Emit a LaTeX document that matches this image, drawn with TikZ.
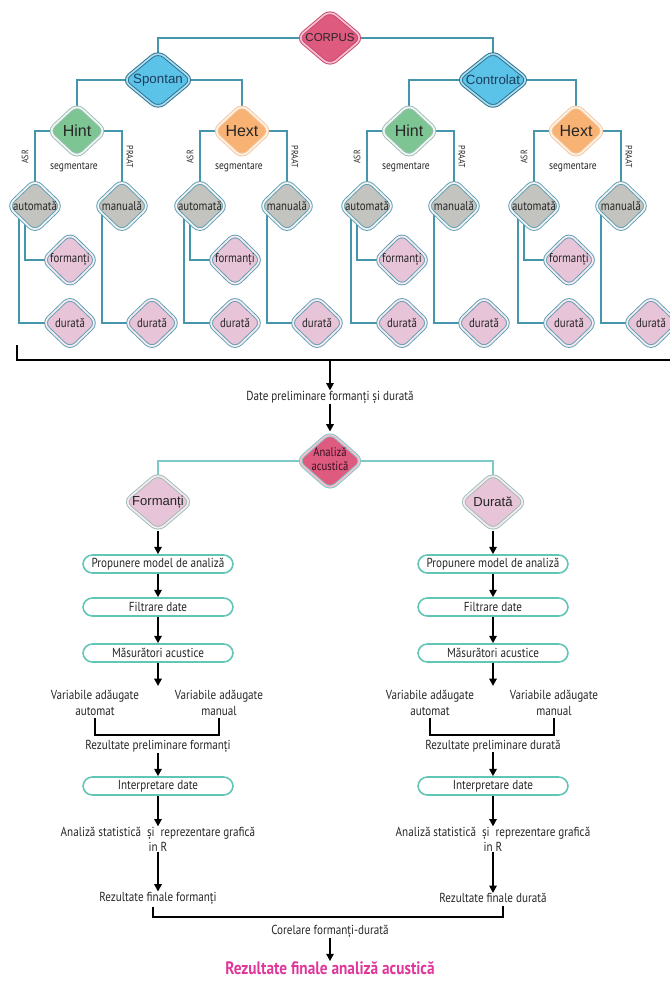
\documentclass[tikz,border=0pt]{standalone}
\usepackage{fontspec}
\setmainfont{PT Sans}[FakeStretch=0.85]
\newfontfamily\arialf{Liberation Sans}
\usetikzlibrary{shapes.geometric,arrows.meta,backgrounds,calc}
\definecolor{txt}{HTML}{262626}
\definecolor{corpusfill}{HTML}{DF5A7F}
\definecolor{corpusdraw}{HTML}{C9486E}
\definecolor{corpusring}{HTML}{F6C0D0}
\definecolor{bluefill}{HTML}{5BC3E8}
\definecolor{bluedraw}{HTML}{2C6E8E}
\definecolor{bluering}{HTML}{A9DDF0}
\definecolor{bluetext}{HTML}{1E3D5C}
\definecolor{greenfill}{HTML}{7DC593}
\definecolor{greendraw}{HTML}{9DBDB6}
\definecolor{greenring}{HTML}{F0F8F2}
\definecolor{orangefill}{HTML}{F8B273}
\definecolor{orangedraw}{HTML}{F2C7A0}
\definecolor{orangering}{HTML}{FFF2E4}
\definecolor{grayfill}{HTML}{C3C4C0}
\definecolor{tealdraw}{HTML}{5F9FB2}
\definecolor{lightring}{HTML}{F3F3F3}
\definecolor{pinkfill}{HTML}{E8C4D9}
\definecolor{pinkring}{HTML}{F7EAF1}
\definecolor{antext}{HTML}{3A1024}
\definecolor{condraw}{HTML}{4595AC}
\definecolor{mint}{HTML}{62C6B6}
\definecolor{mintline}{HTML}{7DC9C6}
\definecolor{magenta}{HTML}{E0389A}
\newcommand{\zb}[1]{\makebox[0pt]{#1}}
\tikzset{
  dm/.style 2 args={diamond, inner sep=0pt, rounded corners=6pt,
    line width=0.7pt, double distance=1.3pt,
    minimum width=#1*0.75pt, minimum height=#2*0.75pt, text=txt},
  corpusdm/.style={fill=corpusfill, draw=corpusdraw, double=corpusring},
  bluedm/.style={fill=bluefill, draw=bluedraw, double=bluering, text=bluetext},
  greendm/.style={fill=greenfill, draw=greendraw, double=greenring},
  orangedm/.style={fill=orangefill, draw=orangedraw, double=orangering},
  graydm/.style={fill=grayfill, draw=tealdraw, double=lightring},
  pinkdm/.style={fill=pinkfill, draw=tealdraw, double=pinkring},
  bigpink/.style={fill=pinkfill, draw=greendraw, double=pinkring},
  andm/.style={fill=corpusfill, draw=mintline, double=corpusring, text=antext},
  con/.style={draw=condraw, line width=1pt},
  conmint/.style={draw=mintline, line width=1pt},
  arr/.style={-{Triangle[length=5.5pt,width=5.5pt]}, line width=1.5pt, draw=black},
  brk/.style={line width=2.2pt, draw=black},
  procbox/.style={rounded corners=7pt, draw=mint, line width=1.2pt,
    minimum width=150*0.75pt, minimum height=18*0.75pt, inner sep=0pt,
    fill=white, font=\fontsize{9.8}{10.5}\selectfont, text=txt},
  lbl/.style={inner sep=0pt, font=\fontsize{9.8}{11.5}\selectfont, text=txt, align=center},
  smalldm/.style={font=\fontsize{9.6}{10}\selectfont},
}
\begin{document}
\begin{tikzpicture}[x=0.75pt, y=-0.75pt]
\useasboundingbox (0,0) rectangle (669,983);
% ---------- top tree ----------
\node[dm={66}{56}, corpusdm, font=\arialf\fontsize{8.6}{9}\selectfont] (co) at (330,38) {\zb{CORPUS}};
\node[dm={70}{58}, bluedm, font=\arialf\fontsize{10}{11}\selectfont] (sp) at (158,80) {\zb{Spontan}};
\node[dm={72}{58}, bluedm, font=\arialf\fontsize{10}{11}\selectfont] (ct) at (493,80) {\zb{Controlat}};
\foreach \i/\H/\lab/\sty in {1/77/Hint/greendm, 2/242/Hext/orangedm, 3/409/Hint/greendm, 4/576/Hext/orangedm}{
  \node[dm={58}{54}, \sty, font=\arialf\fontsize{12}{13}\selectfont] (h\i) at (\H,131) {\zb{\lab}};
  \node[lbl, font=\fontsize{8.4}{9}\selectfont] (s\i) at (\H-3,167) {segmentare};
  \node[lbl, rotate=90, font=\fontsize{7}{7}\selectfont] (asr\i) at (\H-52,157) {ASR};
  \node[lbl, rotate=-90, font=\fontsize{7}{7}\selectfont] (pr\i) at (\H+53,157) {PRAAT};
  \node[dm={55}{53}, graydm, smalldm] (a\i) at (\H-42,206) {\zb{automată}};
  \node[dm={55}{53}, graydm, smalldm] (m\i) at (\H+45,206) {\zb{manuală}};
  \node[dm={55}{54}, pinkdm, smalldm] (f\i) at (\H-7,260) {\zb{formanți}};
  \node[dm={55}{53}, pinkdm, smalldm] (d\i) at (\H-7,323) {\zb{durată}};
  \node[dm={55}{53}, pinkdm, smalldm] (e\i) at (\H+75,323) {\zb{durată}};
}
\begin{scope}[on background layer]
  \draw[con] (co.center) -| (sp.center);
  \draw[con] (co.center) -| (ct.center);
  \draw[con] (sp.center) -| (h1.center);
  \draw[con] (sp.center) -| (h2.center);
  \draw[con] (ct.center) -| (h3.center);
  \draw[con] (ct.center) -| (h4.center);
  \foreach \i in {1,2,3,4}{
    \draw[con] (h\i.center) -| (a\i.center);
    \draw[con] (h\i.center) -| (m\i.center);
    \draw[con] ($(a\i.center)+(-10,0)$) |- (f\i.center);
    \draw[con] ($(a\i.center)+(-16,0)$) |- (d\i.center);
    \draw[con] ($(m\i.center)+(-20,0)$) |- (e\i.center);
  }
\end{scope}
% ---------- collecting bracket ----------
\coordinate (bl) at (17,345);
\coordinate (bm) at (330,360);
\coordinate (br) at (690,360);
\draw[brk] (bl) |- (br);
\node[lbl] (date) at (330,397) {Date preliminare formanți și durată};
\draw[arr] (bm) -- (date.north);
\node[dm={66}{58}, andm, font=\fontsize{9.4}{10.5}\selectfont] (an) at (330,461)
  {\zb{\begin{tabular}{@{}c@{}}Analiză\\acustică\end{tabular}}};
\draw[arr] (date.south) -- (an.north);
\node[dm={68}{58}, bigpink, font=\arialf\fontsize{9.8}{11}\selectfont] (fo) at (158,502) {\zb{Formanți}};
\node[dm={66}{58}, bigpink, font=\arialf\fontsize{9.8}{11}\selectfont] (du) at (493,502) {\zb{Durată}};
\begin{scope}[on background layer]
  \draw[conmint] (an.center) -| (fo.center);
  \draw[conmint] (an.center) -| (du.center);
\end{scope}
% ---------- two columns ----------
\foreach \c/\n/\w/\top in {158/L/formanți/fo, 493/R/durată/du}{
  \node[procbox] (prop\n) at (\c,564) {Propunere model de analiză};
  \node[procbox] (filt\n) at (\c,607) {Filtrare date};
  \node[procbox] (mas\n) at (\c,653) {Măsurători acustice};
  \coordinate (masend\n) at (\c,686);
  \node[lbl] (va\n) at (\c-63,703) {Variabile adăugate\\automat};
  \node[lbl] (vm\n) at (\c+61,703) {Variabile adăugate\\manual};
  \coordinate (vb\n) at (\c,735);
  \node[lbl] (rp\n) at (\c,746) {Rezultate preliminare \w};
  \node[procbox] (int\n) at (\c,786) {Interpretare date};
  \node[lbl] (st\n) at (\c,839) {Analiză statistică\ \ și\ \ reprezentare grafică\\in R};
  \node[lbl] (rf\n) at (\c,898) {Rezultate finale \w};
  \draw[arr] (\top.south) -- (prop\n.north);
  \draw[arr] (prop\n.south) -- (filt\n.north);
  \draw[arr] (filt\n.south) -- (mas\n.north);
  \draw[arr] (mas\n.south) -- (masend\n);
  \draw[brk, line width=1.8pt] ([yshift=-2pt]va\n.south) -- (va\n.south |- vb\n) -- (vm\n.south |- vb\n) -- ([yshift=-2pt]vm\n.south);
  \draw[arr] (rp\n.south) -- (int\n.north);
  \draw[arr] (int\n.south) -- (st\n.north);
  \draw[arr] (st\n.south) -- (rf\n.north);
}
% ---------- final ----------
\coordinate (fbl) at (153,917);
\coordinate (fbr) at (503,917);
\draw[brk, line width=1.8pt] ([yshift=-2pt]rfL.south -| fbl) -- (fbl) -- (fbr) -- ([yshift=-2pt]rfR.south -| fbr);
\node[lbl] (corel) at (330,931) {Corelare formanți-durată};
\node[lbl, text=magenta, font=\bfseries\fontsize{13.5}{14}\selectfont] (fin) at (330,968) {Rezultate finale analiză acustică};
\draw[arr] (corel.south) -- (fin.north);
\end{tikzpicture}
\end{document}
